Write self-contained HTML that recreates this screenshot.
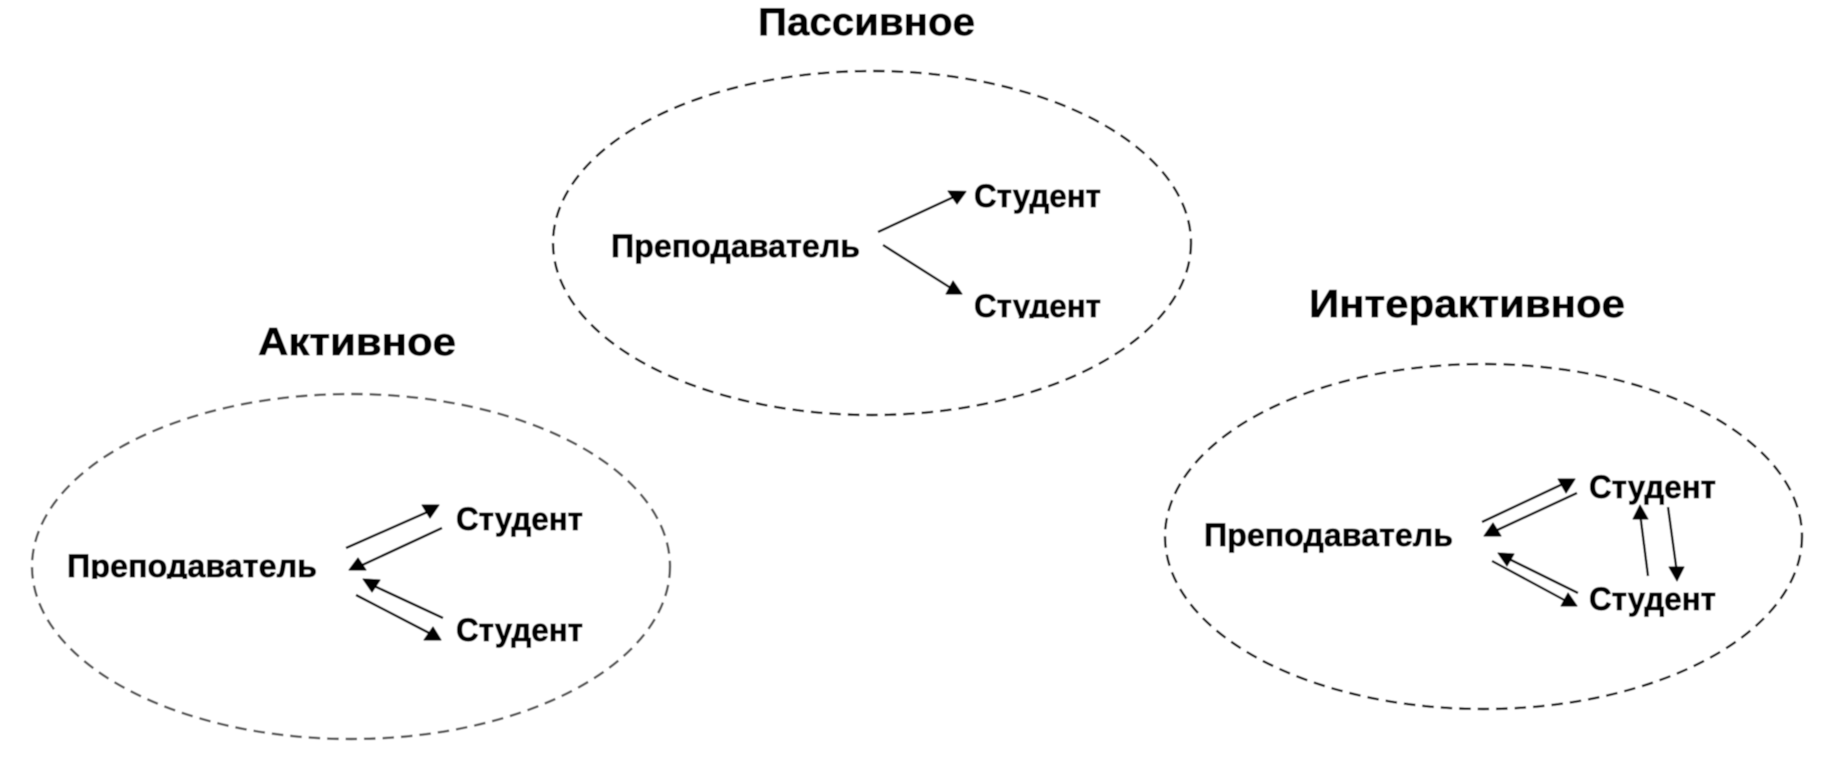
<!DOCTYPE html>
<html lang="ru"><head><meta charset="utf-8"><title>Диаграмма</title>
<style>html,body{margin:0;padding:0;background:#fff;width:1842px;height:762px;overflow:hidden}svg{display:block}
text{font-family:"Liberation Sans",sans-serif;font-weight:bold;fill:#000;stroke:#000;stroke-width:.7}
.t{font-size:39px}.s{font-size:32px}
.e{fill:none;stroke:#111;stroke-width:2.4;stroke-dasharray:11.5 7}
.a{stroke:#000;stroke-width:2.4}
polygon{fill:#000;stroke:#000;stroke-width:1.2;stroke-linejoin:round}</style></head><body>
<svg width="1842" height="762" viewBox="0 0 1842 762" xmlns="http://www.w3.org/2000/svg">
<defs><filter id="b" x="0" y="0" width="100%" height="100%" filterUnits="objectBoundingBox"><feGaussianBlur stdDeviation="0.55"/></filter></defs>
<g filter="url(#b)">
<rect width="1842" height="762" fill="#fff"/>
<ellipse class="e" cx="872" cy="243" rx="319" ry="172"/>
<ellipse class="e" cx="351" cy="566.500" rx="319" ry="172.500" style="stroke:#555"/>
<ellipse class="e" cx="1483.500" cy="536.500" rx="318.500" ry="172.500"/>
<text class="t" x="758" y="35" textLength="217" lengthAdjust="spacingAndGlyphs">Пассивное</text>
<text class="t" x="258" y="355" textLength="198" lengthAdjust="spacingAndGlyphs">Активное</text>
<text class="t" x="1309" y="317" textLength="316" lengthAdjust="spacingAndGlyphs">Интерактивное</text>
<text class="s" x="611" y="257" textLength="249" lengthAdjust="spacingAndGlyphs">Преподаватель</text>
<text class="s" x="974" y="207" textLength="127" lengthAdjust="spacingAndGlyphs">Студент</text>
<text class="s" x="974" y="317" textLength="127" lengthAdjust="spacingAndGlyphs">Студент</text>
<text class="s" x="67" y="577" textLength="250" lengthAdjust="spacingAndGlyphs">Преподаватель</text>
<text class="s" x="456" y="530" textLength="127" lengthAdjust="spacingAndGlyphs">Студент</text>
<text class="s" x="456" y="641" textLength="127" lengthAdjust="spacingAndGlyphs">Студент</text>
<text class="s" x="1204" y="546" textLength="249" lengthAdjust="spacingAndGlyphs">Преподаватель</text>
<text class="s" x="1589" y="498" textLength="127" lengthAdjust="spacingAndGlyphs">Студент</text>
<text class="s" x="1589" y="610" textLength="127" lengthAdjust="spacingAndGlyphs">Студент</text>
<rect x="60" y="579" width="265" height="12" fill="#fff"/>
<rect x="970" y="318.500" width="135" height="10" fill="#fff"/>
<line class="a" x1="878" y1="232" x2="958" y2="195"/><polygon points="948,191 966,191.500 957,204"/>
<line class="a" x1="883" y1="245" x2="954" y2="290"/><polygon points="946,294 962,294 953,281"/>
<line class="a" x1="346" y1="548" x2="432" y2="510"/><polygon points="422,505 439,505 430,518"/>
<line class="a" x1="442" y1="528" x2="358" y2="567"/><polygon points="349,570 366,570 358,558"/>
<line class="a" x1="443" y1="618" x2="372" y2="585"/><polygon points="363,579 380,580 372,592"/>
<line class="a" x1="356" y1="595" x2="433" y2="635"/><polygon points="424,640 441,640 433,627"/>
<line class="a" x1="1482" y1="522" x2="1567" y2="482"/><polygon points="1558,479 1575,479 1566,493"/>
<line class="a" x1="1577" y1="493" x2="1493" y2="532"/><polygon points="1484,536 1501,536 1493,523"/>
<line class="a" x1="1578" y1="593" x2="1507" y2="558"/><polygon points="1498,553 1514,554 1507,566"/>
<line class="a" x1="1492" y1="561" x2="1568" y2="602"/><polygon points="1561,606 1577,606 1568,593"/>
<line class="a" x1="1648" y1="576" x2="1640" y2="513"/><polygon points="1633,519 1648,519 1640,505"/>
<line class="a" x1="1668" y1="507" x2="1677" y2="573"/><polygon points="1669,567 1684,567 1677,581"/>
</g>
</svg></body></html>
